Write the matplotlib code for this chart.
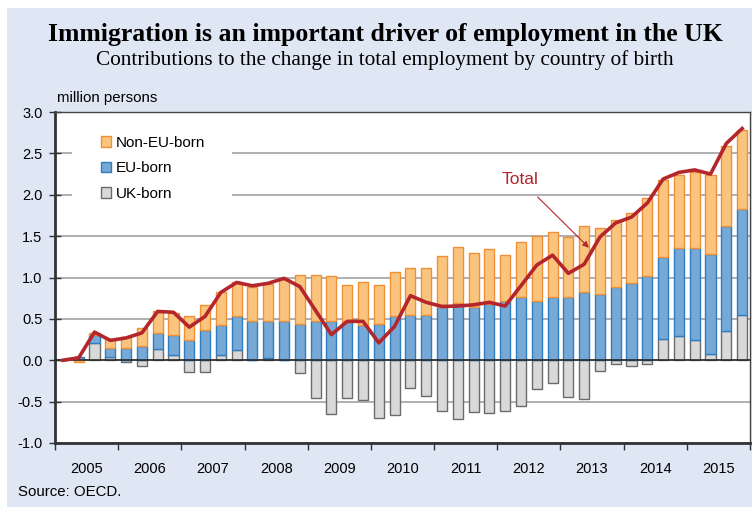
import matplotlib
matplotlib.use("Agg")
import matplotlib.pyplot as plt
from matplotlib.patches import Rectangle
import numpy as np

# Data: quarterly contributions, 2005Q1 - 2015Q4 (million persons)
years = [str(y) for y in range(2005, 2016)]
uk_born = [0.0, 0.0, 0.21, 0.04, -0.02, -0.065, 0.14, 0.06,
           -0.14, -0.14, 0.064, 0.12, 0.0, 0.03, 0.0, -0.15,
           -0.46, -0.655, -0.455, -0.48, -0.70, -0.66, -0.33, -0.43,
           -0.615, -0.71, -0.63, -0.64, -0.61, -0.55, -0.35, -0.28,
           -0.45, -0.47, -0.125, -0.05, -0.07, -0.05, 0.26, 0.29,
           0.245, 0.07, 0.35, 0.547]
eu_born = [0.0, 0.04, 0.09, 0.11, 0.15, 0.17, 0.19, 0.25,
           0.25, 0.36, 0.356, 0.41, 0.48, 0.44, 0.48, 0.44,
           0.48, 0.48, 0.46, 0.43, 0.44, 0.535, 0.55, 0.55,
           0.64, 0.695, 0.643, 0.68, 0.71, 0.76, 0.72, 0.77,
           0.76, 0.83, 0.80, 0.89, 0.93, 1.02, 0.99, 1.07,
           1.115, 1.21, 1.275, 1.278]
non_eu_born = [0.0, -0.02, 0.03, 0.11, 0.13, 0.22, 0.26, 0.26,
               0.29, 0.31, 0.40, 0.415, 0.41, 0.455, 0.50, 0.59,
               0.545, 0.54, 0.445, 0.51, 0.47, 0.535, 0.56, 0.57,
               0.615, 0.675, 0.657, 0.66, 0.565, 0.67, 0.78, 0.78,
               0.73, 0.795, 0.80, 0.80, 0.855, 0.94, 0.93, 0.88,
               0.92, 0.955, 0.965, 0.955]
total = [0.0, 0.03, 0.34, 0.24, 0.27, 0.33, 0.59, 0.58,
         0.40, 0.53, 0.82, 0.94, 0.90, 0.93, 0.99, 0.89,
         0.60, 0.31, 0.47, 0.47, 0.21, 0.41, 0.78, 0.70,
         0.65, 0.655, 0.67, 0.70, 0.655, 0.90, 1.15, 1.27,
         1.05, 1.16, 1.49, 1.66, 1.73, 1.90, 2.19, 2.27,
         2.30, 2.25, 2.62, 2.80]

uk = np.array(uk_born)
eu = np.array(eu_born)
ne = np.array(non_eu_born)
x = np.arange(len(uk))

# stacking: positives on top of positives, negatives below negatives
pos = np.zeros(len(x))
neg = np.zeros(len(x))
bottoms = []
for s in (uk, eu, ne):
    b = np.where(s >= 0, pos, neg)
    bottoms.append(b)
    pos = pos + np.where(s >= 0, s, 0)
    neg = neg + np.where(s < 0, s, 0)

sans = "Liberation Sans"
serif = "Liberation Serif"
bg = "#dfe7f4"

fig = plt.figure(figsize=(7.52, 5.07), dpi=100)
fig.patches.append(Rectangle((7 / 752, 0), 1, 1 - 8 / 507, transform=fig.transFigure,
                             facecolor=bg, edgecolor="none", zorder=-10))
ax = fig.add_axes([55 / 752, 64 / 507, 695 / 752, 331 / 507])

w = 0.64
ax.bar(x, uk, w, bottom=bottoms[0], color="#d9d9d9", edgecolor="#6b6b6b", linewidth=1, label="UK-born", zorder=3)
ax.bar(x, eu, w, bottom=bottoms[1], color="#77a9d6", edgecolor="#2f7dc0", linewidth=1, label="EU-born", zorder=3)
ax.bar(x, ne, w, bottom=bottoms[2], color="#f9c57e", edgecolor="#f08f35", linewidth=1, label="Non-EU-born", zorder=3)
ax.plot(x, total, color="#b5262c", linewidth=2.6, zorder=5)

ax.set_xlim(-0.5, 43.5)
ax.set_ylim(-1.0, 3.0)
ax.set_yticks(np.arange(-1.0, 3.01, 0.5))
ax.set_yticklabels(["%.1f" % v for v in np.arange(-1.0, 3.01, 0.5)], fontfamily=sans, fontsize=10.5)
ax.yaxis.grid(True, color="#9a9a9a", linewidth=1.1, zorder=0)
ax.set_axisbelow(True)
ax.axhline(0, color="#222222", linewidth=1.1, zorder=4)

ax.set_xticks(np.arange(-0.5, 44, 4))
ax.set_xticklabels([])
ax.set_xticks(np.arange(1.5, 44, 4), minor=True)
ax.set_xticklabels(years, minor=True, fontfamily=sans, fontsize=10.5)
ax.tick_params(axis="x", which="major", direction="out", length=5, width=1, color="#333333")
ax.tick_params(axis="x", which="minor", length=0, pad=14)
ax.tick_params(axis="y", direction="inout", length=8, width=1, color="#333333", pad=5)

for side in ("left", "bottom"):
    ax.spines[side].set_linewidth(2)
    ax.spines[side].set_color("#333333")
for side in ("top", "right"):
    ax.spines[side].set_linewidth(1)
    ax.spines[side].set_color("#444444")

# white box behind legend hides gridlines
ax.add_patch(Rectangle((17 / 695, 1 - 100 / 331), 160 / 695, 88 / 331, transform=ax.transAxes,
                       facecolor="white", edgecolor="none", zorder=1))
h, l = ax.get_legend_handles_labels()
ax.legend(h[::-1], l[::-1], loc="upper left", bbox_to_anchor=(0.066, 0.928), frameon=False,
          prop={"family": sans, "size": 11}, handlelength=0.68, handleheight=0.68,
          handletextpad=0.3, labelspacing=0.75, borderpad=0, borderaxespad=0)

ax.annotate("Total", xy=(33.3, 1.36), xytext=(28.96, 2.18), color="#b5262c",
            fontfamily=sans, fontsize=12.5, ha="center", va="center",
            arrowprops=dict(arrowstyle="-|>", color="#b5262c", lw=0.8, mutation_scale=9,
                            shrinkA=7, shrinkB=0))

fig.text(0.512, 0.931, "Immigration is an important driver of employment in the UK",
         ha="center", va="center", fontfamily=serif, fontweight="bold", fontsize=18.5)
fig.text(0.512, 0.882, "Contributions to the change in total employment by country of birth",
         ha="center", va="center", fontfamily=serif, fontsize=15.3)
fig.text(57 / 752, 1 - 98 / 507, "million persons", ha="left", va="center", fontfamily=sans, fontsize=10.8)
fig.text(18 / 752, 1 - 492 / 507, "Source: OECD.", ha="left", va="center", fontfamily=sans, fontsize=10.8)

fig.savefig("out.png", dpi=100)
